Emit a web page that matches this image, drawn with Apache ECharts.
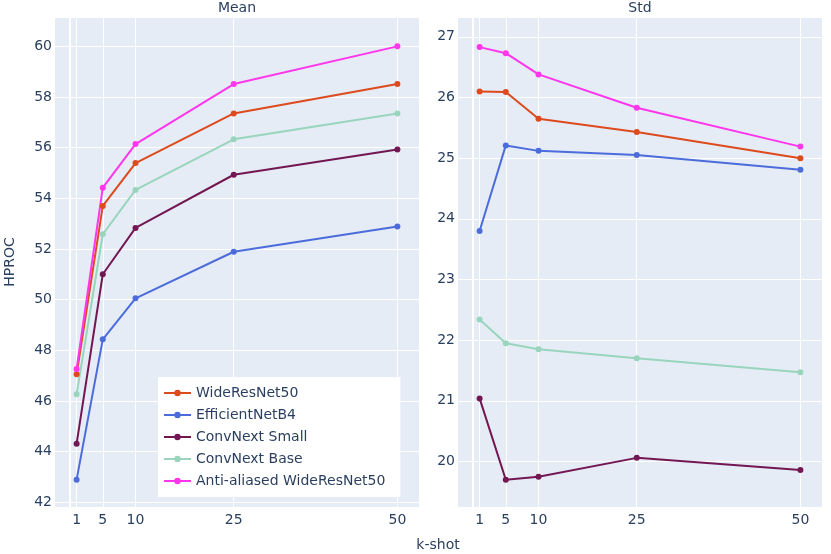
<!DOCTYPE html>
<html lang="en">
<head>
    <meta charset="UTF-8">
    <title>HPROC vs k-shot</title>
    <script src="https://cdn.jsdelivr.net/npm/echarts/dist/echarts.min.js"></script>
    <style>
        html, body { margin: 0; padding: 0; background: #fff; }
        #chart-container { width: 831px; height: 554px; }
    </style>
</head>
<body>
    <div id="chart-container"></div>
    <script>
        var kShots = [1, 5, 10, 25, 50];
        var models = ['WideResNet50', 'EfficientNetB4', 'ConvNext Small', 'ConvNext Base', 'Anti-aliased WideResNet50'];
        var colors = ['#DD4A1E', '#4C6CDB', '#731752', '#99D5BC', '#FF36EC'];

        // mean HPROC per model
        var meanWide = [47.05, 53.70, 55.39, 57.35, 58.51];
        var meanEff = [42.89, 48.43, 50.05, 51.89, 52.89];
        var meanCnS = [44.31, 51.00, 52.83, 54.93, 55.93];
        var meanCnB = [46.26, 52.58, 54.33, 56.33, 57.35];
        var meanAA = [47.26, 54.42, 56.14, 58.51, 60.00];

        // std HPROC per model
        var stdWide = [26.10, 26.09, 25.65, 25.43, 25.00];
        var stdEff = [23.80, 25.21, 25.12, 25.05, 24.81];
        var stdCnS = [21.04, 19.70, 19.75, 20.06, 19.86];
        var stdCnB = [22.34, 21.95, 21.85, 21.70, 21.47];
        var stdAA = [26.83, 26.73, 26.38, 25.83, 25.19];

        var meanTicks = [42, 44, 46, 48, 50, 52, 54, 56, 58, 60];
        var stdTicks = [20, 21, 22, 23, 24, 25, 26, 27];

        var meanSets = [meanWide, meanEff, meanCnS, meanCnB, meanAA];
        var stdSets = [stdWide, stdEff, stdCnS, stdCnB, stdAA];

        var textColor = '#2a3f5f';
        var font = '"DejaVu Sans", sans-serif';

        function pairs(vals) {
            return vals.map(function (v, i) { return [kShots[i], v]; });
        }

        function xAxisFor(idx) {
            return {
                type: 'value',
                gridIndex: idx,
                min: -2.3,
                max: 53.3,
                axisLine: { show: false },
                axisTick: { show: false, customValues: [0].concat(kShots) },
                axisLabel: { customValues: kShots, color: textColor, fontSize: 14, fontFamily: font, margin: 6 },
                splitLine: { show: true, lineStyle: { color: '#fff', width: 1 } }
            };
        }

        function yAxisFor(idx, min, max, ticks) {
            return {
                type: 'value',
                gridIndex: idx,
                min: min,
                max: max,
                axisLine: { show: false },
                axisTick: { show: false, customValues: ticks },
                axisLabel: { customValues: ticks, color: textColor, fontSize: 14, fontFamily: font, margin: 3 },
                splitLine: { show: true, lineStyle: { color: '#fff', width: 1 } }
            };
        }

        var series = [];
        [meanSets, stdSets].forEach(function (sets, g) {
            sets.forEach(function (vals, i) {
                series.push({
                    name: models[i],
                    type: 'line',
                    xAxisIndex: g,
                    yAxisIndex: g,
                    data: pairs(vals),
                    symbol: 'circle',
                    symbolSize: 6,
                    showSymbol: true,
                    lineStyle: { width: 2, color: colors[i] },
                    itemStyle: { color: colors[i] },
                    z: 3,
                    animation: false
                });
            });
        });

        // zero lines at x = 0
        [0, 1].forEach(function (g) {
            series.push({
                type: 'line',
                xAxisIndex: g,
                yAxisIndex: g,
                data: [],
                silent: true,
                markLine: {
                    symbol: 'none',
                    label: { show: false },
                    lineStyle: { color: '#fff', width: 2, type: 'solid' },
                    data: [{ xAxis: 0 }],
                    animation: false
                },
                z: 1
            });
        });

        var myChart = echarts.init(document.getElementById('chart-container'));

        var option = {
            backgroundColor: '#fff',
            animation: false,
            textStyle: { fontFamily: font },
            grid: [
                { left: 55, top: 18, width: 364, height: 489, show: true, backgroundColor: '#E5ECF6', borderWidth: 0 },
                { left: 458, top: 18, width: 364, height: 489, show: true, backgroundColor: '#E5ECF6', borderWidth: 0 }
            ],
            xAxis: [xAxisFor(0), xAxisFor(1)],
            yAxis: [yAxisFor(0, 41.81, 61.12, meanTicks), yAxisFor(1, 19.25, 27.31, stdTicks)],
            legend: {
                data: models,
                orient: 'vertical',
                left: 158,
                top: 377,
                padding: [9, 15, 9, 5],
                itemGap: 8,
                itemWidth: 27,
                itemHeight: 8,
                backgroundColor: '#fff',
                textStyle: { color: textColor, fontSize: 14, fontFamily: font }
            },
            graphic: [
                { type: 'text', style: { text: 'Mean', x: 237, y: 8, fill: textColor, font: '14px ' + font, textAlign: 'center', textVerticalAlign: 'middle' } },
                { type: 'text', style: { text: 'Std', x: 640, y: 8, fill: textColor, font: '14px ' + font, textAlign: 'center', textVerticalAlign: 'middle' } },
                { type: 'text', style: { text: 'k-shot', x: 438, y: 545, fill: textColor, font: '14px ' + font, textAlign: 'center', textVerticalAlign: 'middle' } },
                { type: 'text', rotation: Math.PI / 2, x: 10, y: 262, style: { text: 'HPROC', fill: textColor, font: '14px ' + font, textAlign: 'center', textVerticalAlign: 'middle' } }
            ],
            series: series
        };

        myChart.setOption(option);
    </script>
</body>
</html>
